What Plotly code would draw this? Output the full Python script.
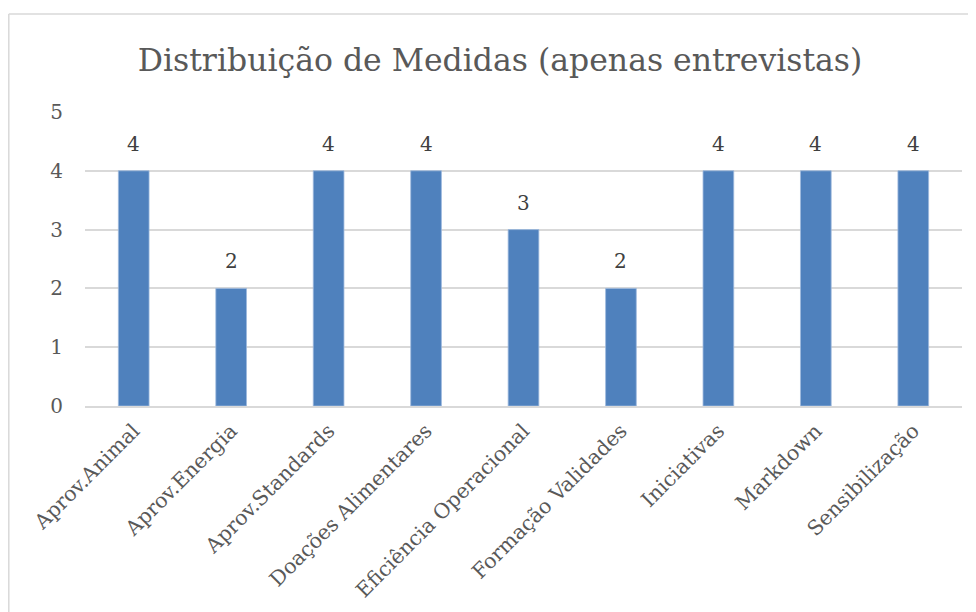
import plotly.graph_objects as go

categories = ["Aprov.Animal", "Aprov.Energia", "Aprov.Standards", "Doações Alimentares",
              "Eficiência Operacional", "Formação Validades", "Iniciativas", "Markdown", "Sensibilização"]
values = [4, 2, 4, 4, 3, 2, 4, 4, 4]
y_ticks = [0, 1, 2, 3, 4, 5]

FONT = "DejaVu Serif"
OFF = 8  # page body margin offset

W, H = 976, 612
# plot area in screen px: x 85..962, y 112..406
L = 85 - OFF
R = W - (962 - OFF)
T = 112 - OFF
B = H - (406 - OFF)
pw, ph = W - L - R, H - T - B

def sx(px):
    return (px - OFF - L) / pw

def sy(py):
    return (H - B - (py - OFF)) / ph

fig = go.Figure(go.Bar(
    x=categories, y=values,
    marker=dict(color="#4F81BD", line=dict(color="#9DB9DD", width=0.8)),
    hoverinfo="skip",
))

for c, v in zip(categories, values):
    fig.add_annotation(x=c, y=v, text=str(v), showarrow=False, yanchor="bottom",
                       yshift=13, font=dict(family=FONT, size=20, color="#404040"))

fig.update_layout(
    width=W, height=H,
    margin=dict(l=L, r=R, t=T, b=B, autoexpand=False),
    paper_bgcolor="white", plot_bgcolor="white",
    bargap=0.685,
    showlegend=False,
    title=dict(text="Distribuição de Medidas (apenas entrevistas)",
               font=dict(family=FONT, size=31.5, color="#595959"),
               x=(500 - OFF) / W, xanchor="center", y=1 - (60 - OFF) / H, yanchor="middle"),
    xaxis=dict(tickangle=-45, tickfont=dict(family=FONT, size=20.5, color="#595959"),
               showgrid=False, showline=True, linecolor="#D9D9D9", linewidth=1.5,
               ticks="outside", ticklen=3, tickcolor="rgba(0,0,0,0)", fixedrange=True),
    yaxis=dict(range=[0, 5], tickvals=y_ticks, showgrid=True, gridcolor="#D9D9D9", gridwidth=1.5,
               zeroline=False, tickfont=dict(family=FONT, size=20, color="#595959"),
               ticks="", ticklabelstandoff=21, fixedrange=True),
    shapes=[
        dict(type="line", xref="paper", yref="paper",
             x0=sx(8.8), x1=sx(8.8), y0=sy(14), y1=sy(640),
             line=dict(color="#D9D9D9", width=1.5)),
        dict(type="line", xref="paper", yref="paper",
             x0=sx(8.8), x1=sx(1000), y0=sy(14), y1=sy(14),
             line=dict(color="#D9D9D9", width=1.5)),
    ],
)

fig.write_html("out.html")
